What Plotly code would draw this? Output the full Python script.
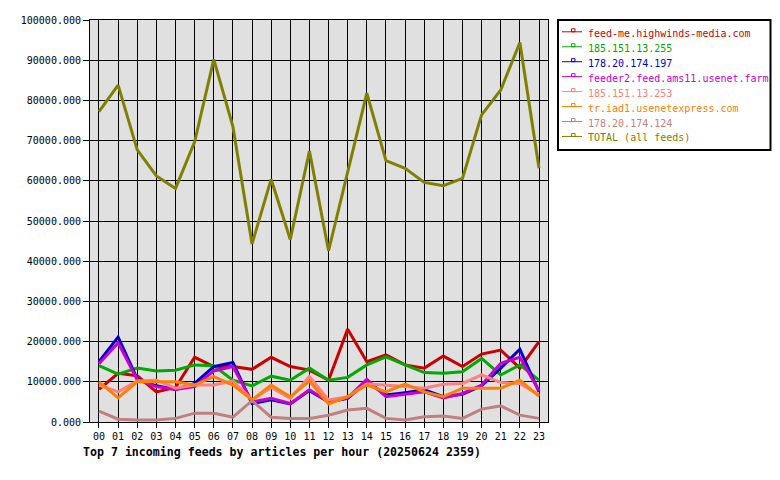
import plotly.graph_objects as go

hours = ["%02d" % h for h in range(24)]

feed_names = [
    "feed-me.highwinds-media.com",
    "185.151.13.255",
    "178.20.174.197",
    "feeder2.feed.ams11.usenet.farm",
    "185.151.13.253",
    "tr.iad1.usenetexpress.com",
    "178.20.174.124",
    "TOTAL (all feeds)",
]
feed_colors = ["#cc0000", "#00aa00", "#0000cc", "#cc00cc", "#ff8080", "#ff8000", "#c08080", "#808000"]

highwinds = [8100, 12100, 11500, 7500, 8600, 16100, 13800, 13800, 13100, 16100, 13800, 12900,
             10400, 23100, 15000, 16700, 14200, 13400, 16400, 13800, 16900, 17900, 13400, 20000]
ip_255 = [14000, 11900, 13400, 12700, 12900, 14200, 14000, 10400, 9000, 11400, 10400, 13400,
          10400, 11100, 14200, 16200, 14200, 12300, 12100, 12500, 15800, 11700, 14200, 10400]
ip_197 = [15000, 21100, 10700, 9000, 8100, 9600, 13800, 14800, 4600, 5500, 4500, 7800,
          5000, 5900, 10000, 6700, 7300, 8000, 6300, 6900, 9000, 13400, 18100, 7500]
usenet_farm = [14500, 19700, 10500, 8800, 8100, 8800, 12700, 13800, 5000, 5900, 4600, 8000,
               5000, 6000, 10600, 6300, 6900, 7500, 6000, 7100, 9200, 14600, 16100, 7800]
ip_253 = [9200, 7500, 10200, 10400, 8400, 9200, 9200, 10200, 5500, 8600, 5900, 11300,
          5500, 6300, 9500, 9200, 8800, 8400, 9400, 9600, 11700, 9800, 9600, 6700]
usenetexpress = [10000, 6000, 10000, 10000, 10000, 9200, 11300, 9200, 5500, 9200, 6300, 10200,
                 4500, 6300, 9200, 7500, 9400, 7500, 6300, 8400, 8400, 8400, 10400, 6400]
ip_124 = [2700, 700, 500, 500, 900, 2200, 2200, 1200, 5300, 1200, 900, 900,
          1700, 3000, 3400, 900, 500, 1300, 1500, 900, 3200, 4000, 1700, 900]
total = [77200, 83800, 67700, 61200, 58100, 69700, 90200, 73500, 44300, 60400, 45400, 67400,
         42600, 62300, 81800, 65000, 63100, 59600, 58800, 60600, 76400, 82600, 94400, 63100]

series = [highwinds, ip_255, ip_197, usenet_farm, ip_253, usenetexpress, ip_124, total]

mono = "DejaVu Sans Mono"

# plot area geometry (pixels) used to place the legend box in paper coordinates
W, H = 780, 480
L, R, T, B = 90, 548, 20, 422


def px(x):
    return (x - L) / (R - L)


def py(y):
    return (B - y) / (B - T)


fig = go.Figure()
for name, color, vals in zip(feed_names, feed_colors, series):
    fig.add_trace(go.Scatter(
        x=hours, y=vals, name=name,
        mode="lines",
        line=dict(color=color, width=3),
        showlegend=False,
    ))

# legend drawn as a box with line samples and coloured labels
shapes = [dict(type="rect", xref="paper", yref="paper",
               x0=px(558), x1=px(770.5), y0=py(150), y1=py(20),
               line=dict(color="black", width=2), fillcolor="white", layer="above")]
annotations = []
for i, (name, color) in enumerate(zip(feed_names, feed_colors)):
    yc = 33.3 + 14.95 * i
    yl = yc - 1.5
    shapes.append(dict(type="line", xref="paper", yref="paper",
                       x0=px(562), x1=px(582), y0=py(yl), y1=py(yl),
                       line=dict(color=color, width=1), layer="above"))
    shapes.append(dict(type="rect", xref="paper", yref="paper",
                       x0=px(571.5), x1=px(575), y0=py(yl), y1=py(yl - 3),
                       line=dict(color=color, width=1), fillcolor="rgba(0,0,0,0)", layer="above"))
    annotations.append(dict(xref="paper", yref="paper", x=px(586), y=py(yc),
                            xanchor="left", yanchor="middle", showarrow=False,
                            text=name, font=dict(family=mono, size=10, color=color)))

fig.update_layout(
    width=W, height=H,
    margin=dict(l=L, r=W - R, t=T, b=H - B, autoexpand=False),
    paper_bgcolor="white",
    plot_bgcolor="#e0e0e0",
    font=dict(family=mono, size=10, color="black"),
    showlegend=False,
    shapes=shapes,
    annotations=annotations,
    title=dict(
        text="<b>Top 7 incoming feeds by articles per hour (20250624 2359)</b>",
        xref="container", yref="container",
        x=83 / W, xanchor="left", y=1 - 452 / H, yanchor="middle",
        font=dict(family=mono, size=11.6, color="black"),
    ),
)

fig.update_xaxes(
    type="category", range=[-0.47, 23.47],
    showgrid=True, gridcolor="black", gridwidth=1,
    showline=True, linecolor="black", linewidth=1, mirror=True,
    ticks="outside", ticklen=5, tickcolor="black",
    tickfont=dict(family=mono, size=10), zeroline=False,
)
fig.update_yaxes(
    range=[0, 100000], dtick=10000, tickformat=".3f",
    showgrid=True, gridcolor="black", gridwidth=1,
    showline=True, linecolor="black", linewidth=1, mirror=True,
    ticks="outside", ticklen=6, tickcolor="black",
    tickfont=dict(family=mono, size=10), zeroline=False,
)

fig.write_html("out.html")
